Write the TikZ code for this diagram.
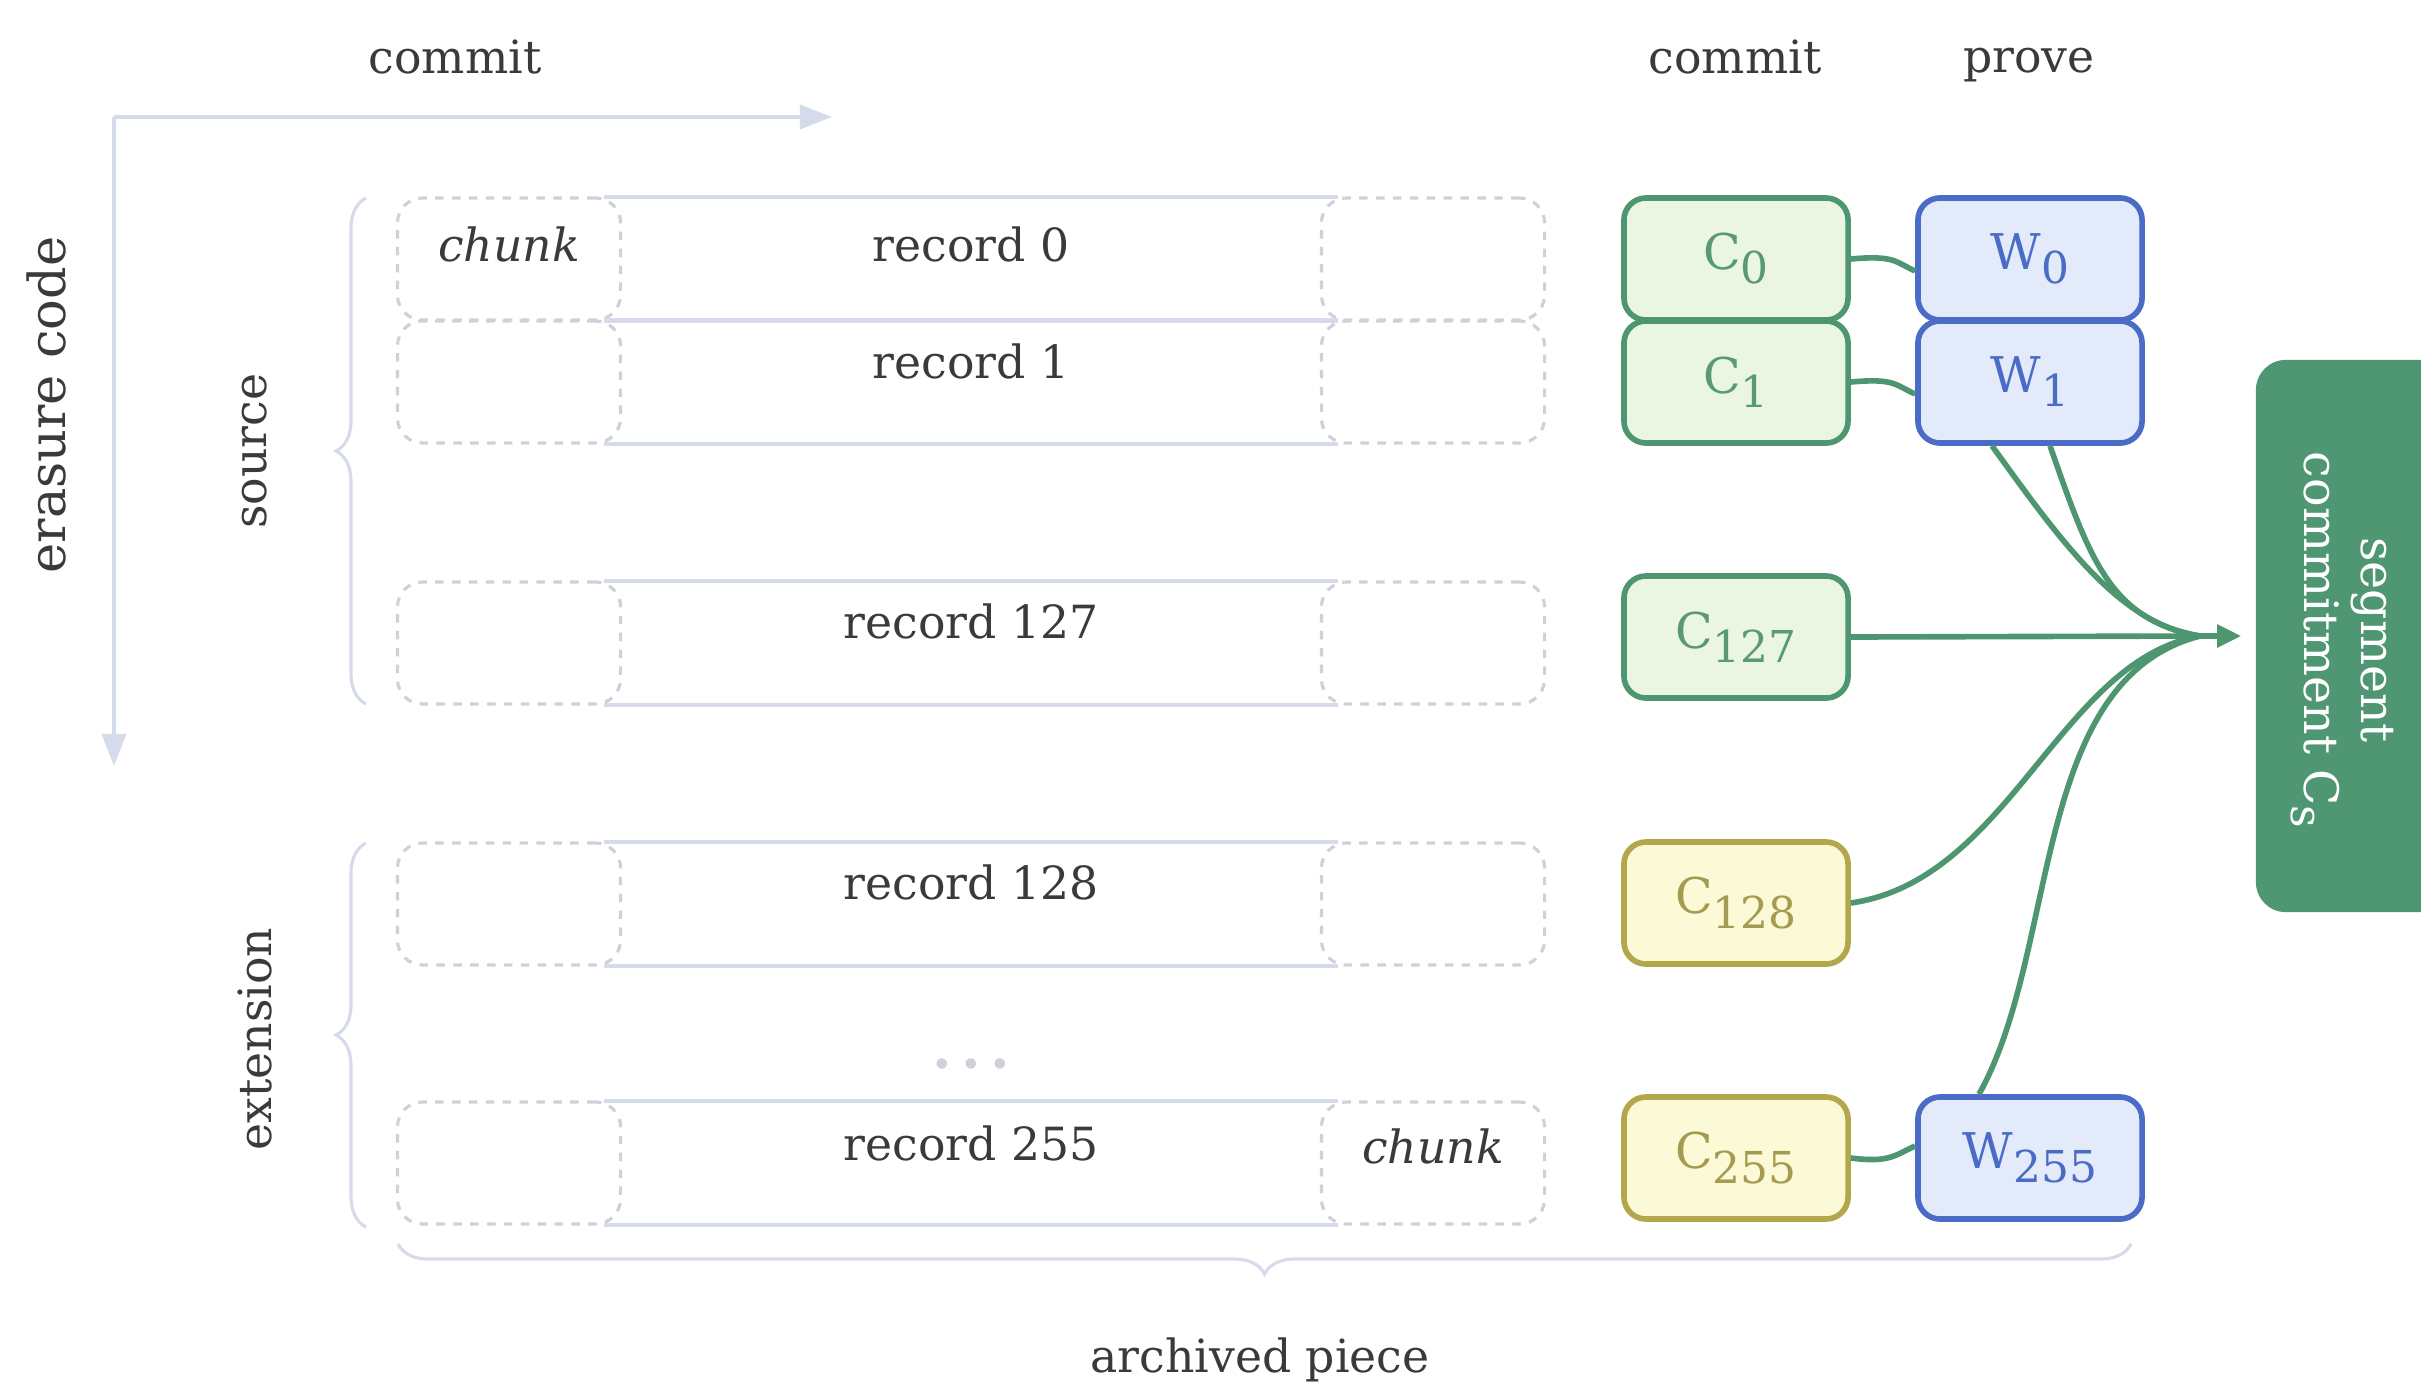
\documentclass[tikz,border=0pt]{standalone}
\usepackage{fontspec}
\setmainfont{DejaVu Serif}
\usetikzlibrary{arrows.meta,decorations.pathreplacing,calc}

\definecolor{axiscol}{HTML}{D6DBEC}
\definecolor{dashcol}{HTML}{CFD1DA}
\definecolor{ink}{HTML}{3A3A3A}
\definecolor{gfill}{HTML}{EAF6E1}
\definecolor{gline}{HTML}{4E9670}
\definecolor{gtext}{HTML}{5A9A72}
\definecolor{yfill}{HTML}{FCF9D6}
\definecolor{yline}{HTML}{B3A74C}
\definecolor{ytext}{HTML}{A49B50}
\definecolor{bfill}{HTML}{E3EAFA}
\definecolor{bline}{HTML}{4A6BC6}
\definecolor{segfill}{HTML}{4F9673}

\newcommand\subtx[1]{\raisebox{-0.55ex}{\fontsize{12.5}{13}\selectfont #1}}

\tikzset{
  lbl/.style={text=ink, font=\fontsize{13}{15}\selectfont, inner sep=0pt},
  axisline/.style={draw=axiscol, line width=1pt, -{Triangle[length=0.32cm,width=0.24cm]}},
  chunkbox/.style={draw=dashcol, line width=0.9pt, dash pattern=on 2.4pt off 2.4pt,
    rounded corners=0.25cm, minimum width=2.23cm, minimum height=1.22cm, inner sep=0pt},
  midcell/.style={minimum width=7.2cm, minimum height=1.22cm, inner sep=0pt},
  recline/.style={draw=axiscol, line width=1.1pt},
  brc/.style={draw=axiscol, line width=0.9pt, decorate,
    decoration={brace, amplitude=0.3cm, raise=0pt}},
  combox/.style={rounded corners=0.22cm, minimum width=2.24cm, minimum height=1.22cm,
    inner sep=0pt, line width=1.6pt, font=\fontsize{14}{15}\selectfont},
  gbox/.style={combox, draw=gline, fill=gfill, text=gtext},
  ybox/.style={combox, draw=yline, fill=yfill, text=ytext},
  wbox/.style={combox, draw=bline, fill=bfill, text=bline},
  flow/.style={draw=gline, line width=1.6pt},
}

\begin{document}
\begin{tikzpicture}[x=0.01cm, y=-0.01cm]
\useasboundingbox (0,0) rectangle (2421,1384);

% column headings
\node[lbl] (hcommitL) at (455,57) {commit};
\node[lbl] (hcommitR) at (1735,57) {commit};
\node[lbl] (hprove) at (2029,65) {prove};

% axes
\coordinate (corner) at (114,117);
\coordinate (xend) at (832,117);
\coordinate (yend) at (114,766);
\draw[axisline] (corner) -- (xend);
\draw[axisline] (corner) -- (yend);
\node[lbl, rotate=90, font=\fontsize{14.5}{16}\selectfont] (erasure) at (46,405) {erasure code};

% record rows: left chunk, record body, right chunk
\foreach \n/\cy/\ty in {0/259/244, 1/382/361, 127/643/621, 128/904/882, 255/1163/1143}{
  \node[chunkbox] (L\n) at (509,\cy) {};
  \node[chunkbox] (R\n) at (1433,\cy) {};
  \node[midcell] (M\n) at (971,\cy) {};
  \draw[recline] ([xshift=-0.06cm]M\n.north west) -- ([xshift=0.06cm]M\n.north east);
  \draw[recline] ([xshift=-0.06cm]M\n.south west) -- ([xshift=0.06cm]M\n.south east);
  \node[lbl] (T\n) at (971,\ty) {record \n};
}
\node[lbl, font=\fontsize{13}{15}\selectfont\itshape] (chunkA) at (509,244) {chunk};
\node[lbl, font=\fontsize{13}{15}\selectfont\itshape] (chunkB) at (1433,1146) {chunk};
\node[text=dashcol, font=\fontsize{16}{16}\selectfont\bfseries, inner sep=0pt] (dots) at (971,1071) {·\,·\,·};

% braces
\coordinate (srcB) at (366,704);
\coordinate (srcT) at (366,198);
\coordinate (extB) at (366,1227);
\coordinate (extT) at (366,843);
\draw[brc] (srcB) -- (srcT);
\draw[brc] (extB) -- (extT);
\node[lbl, rotate=90] (source) at (255,451) {source};
\node[lbl, rotate=90] (extension) at (255,1039) {extension};
\coordinate (pieceR) at (2131,1244);
\coordinate (pieceL) at (398,1244);
\draw[brc] (pieceR) -- (pieceL);
\node[lbl] (piece) at (1260,1360) {archived piece};

% commitments and witnesses
\node[gbox] (C0) at (1736,259) {C\subtx{0}};
\node[gbox] (C1) at (1736,382) {C\subtx{1}};
\node[gbox] (C127) at (1736,637) {C\subtx{127}};
\node[ybox] (C128) at (1736,903) {C\subtx{128}};
\node[ybox] (C255) at (1736,1158) {C\subtx{255}};
\node[wbox] (W0) at (2030,259) {W\subtx{0}};
\node[wbox] (W1) at (2030,382) {W\subtx{1}};
\node[wbox] (W255) at (2030,1158) {W\subtx{255}};

% segment commitment
\node[fill=segfill, rounded corners=0.3cm, minimum width=3.4cm, minimum height=5.52cm, inner sep=0pt]
  (seg) at (2426,636) {};
\node[text=white, rotate=-90, align=center, font=\fontsize{13.5}{16}\selectfont, inner sep=0pt]
  (segtext) at (2342,640) {segment\\commitment C\subtx{s}};

% connectors
\draw[flow] (C0.east) .. controls (1895,255) and (1895,262) .. ([yshift=-0.12cm]W0.west);
\draw[flow] (C1.east) .. controls (1895,378) and (1895,385) .. ([yshift=-0.12cm]W1.west);
\draw[flow] (C255.east) .. controls (1890,1163) and (1895,1155) .. ([yshift=0.12cm]W255.west);

\coordinate (hub) at (2200,636);
\draw[flow] ([xshift=-0.38cm]W1.south) .. controls (2060,540) and (2120,625) .. (hub);
\draw[flow] ([xshift=0.2cm]W1.south) .. controls (2090,560) and (2110,620) .. (hub);
\draw[flow] (C127.east) -- (hub);
\draw[flow] (C128.east) .. controls (2010,880) and (2060,660) .. (hub);
\draw[flow] ([xshift=-0.51cm]W255.north) .. controls (2060,950) and (2030,680) .. (hub);
\draw[flow, -{Triangle[length=0.24cm,width=0.22cm]}] (hub) -- ([xshift=-0.14cm]seg.west);
\end{tikzpicture}
\end{document}
